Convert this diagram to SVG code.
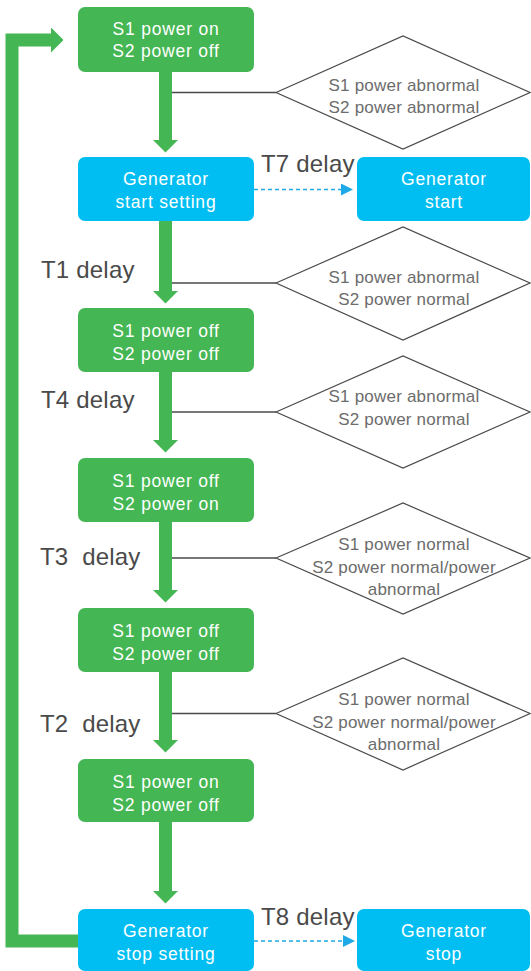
<svg xmlns="http://www.w3.org/2000/svg" width="531" height="971" viewBox="0 0 531 971">
<style>
.g{fill:#44B653}
.b{fill:#00BEF2}
.bt{font-family:"Liberation Sans",Arial,sans-serif;font-size:17.5px;letter-spacing:0.8px;fill:#ffffff;text-anchor:middle}
.dt{font-family:"Liberation Sans",Arial,sans-serif;font-size:17px;letter-spacing:0.2px;fill:#6c6c6c;text-anchor:middle}
.lt{font-family:"Liberation Sans",Arial,sans-serif;font-size:24px;letter-spacing:0.2px;fill:#4a4a4a}
.dm{fill:#ffffff;stroke:#4a4a4a;stroke-width:1.2}
.gl{stroke:#44B653;stroke-width:13;fill:none}
.cl{stroke:#4a4a4a;stroke-width:1.3}
.dl{stroke:#1EAAE6;stroke-width:1.4;stroke-dasharray:4 3}
</style>
<defs>
<marker id="gh" markerUnits="userSpaceOnUse" markerWidth="13" markerHeight="26" refX="0" refY="12.5" orient="auto" viewBox="0 0 13 26"><path d="M0,0 L12.5,12.5 L0,25 z" fill="#44B653"/></marker>
<marker id="bh" markerUnits="userSpaceOnUse" markerWidth="12" markerHeight="12" refX="0" refY="6" orient="auto" viewBox="0 0 12 12"><path d="M0,0 L12,6 L0,12 z" fill="#1EAAE6"/></marker>
</defs>
<g id="connectors">
<path class="gl" d="M78,941 H12 V40 H51" marker-end="url(#gh)"/>
<line class="gl" x1="165.5" y1="71" x2="165.5" y2="140" marker-end="url(#gh)"/>
<line class="gl" x1="165.5" y1="220" x2="165.5" y2="291" marker-end="url(#gh)"/>
<line class="gl" x1="165.5" y1="371" x2="165.5" y2="440" marker-end="url(#gh)"/>
<line class="gl" x1="165.5" y1="521" x2="165.5" y2="590" marker-end="url(#gh)"/>
<line class="gl" x1="165.5" y1="671" x2="165.5" y2="740" marker-end="url(#gh)"/>
<line class="gl" x1="165.5" y1="821" x2="165.5" y2="891" marker-end="url(#gh)"/>
<line class="cl" x1="172" y1="92.5" x2="276" y2="92.5"/>
<line class="cl" x1="172" y1="283" x2="276" y2="283"/>
<line class="cl" x1="172" y1="412" x2="276" y2="412"/>
<line class="cl" x1="172" y1="558" x2="276" y2="558"/>
<line class="cl" x1="172" y1="713.5" x2="276" y2="713.5"/>
<line class="dl" x1="254" y1="189.5" x2="341" y2="189.5" marker-end="url(#bh)"/>
<line class="dl" x1="254" y1="941" x2="343" y2="941" marker-end="url(#bh)"/>
<text class="lt" x="261" y="171.5">T7 delay</text>
<text class="lt" x="261" y="925">T8 delay</text>
<text class="lt" x="41" y="277.5">T1 delay</text>
<text class="lt" x="41" y="408">T4 delay</text>
<text class="lt" x="40" y="565" xml:space="preserve">T3  delay</text>
<text class="lt" x="40" y="732" xml:space="preserve">T2  delay</text>
</g>
<g id="n1"><rect class="g" x="78" y="7" width="176" height="65" rx="7"/><text class="bt" x="166" y="34.5">S1 power on</text><text class="bt" x="166" y="57">S2 power off</text></g>
<g id="n2"><rect class="b" x="78" y="157" width="176" height="64" rx="7"/><text class="bt" x="166" y="185">Generator</text><text class="bt" x="166" y="208">start setting</text></g>
<g id="n3"><rect class="b" x="357" y="157" width="173" height="64" rx="7"/><text class="bt" x="444" y="185">Generator</text><text class="bt" x="444" y="208">start</text></g>
<g id="n4"><rect class="g" x="78" y="308" width="176" height="64" rx="7"/><text class="bt" x="166" y="337">S1 power off</text><text class="bt" x="166" y="359.5">S2 power off</text></g>
<g id="n5"><rect class="g" x="78" y="458" width="176" height="64" rx="7"/><text class="bt" x="166" y="487">S1 power off</text><text class="bt" x="166" y="509.5">S2 power on</text></g>
<g id="n6"><rect class="g" x="78" y="608" width="176" height="64" rx="7"/><text class="bt" x="166" y="637">S1 power off</text><text class="bt" x="166" y="659.5">S2 power off</text></g>
<g id="n7"><rect class="g" x="78" y="759" width="176" height="63" rx="7"/><text class="bt" x="166" y="788">S1 power on</text><text class="bt" x="166" y="810.5">S2 power off</text></g>
<g id="n8"><rect class="b" x="78" y="909" width="176" height="62" rx="7"/><text class="bt" x="166" y="937">Generator</text><text class="bt" x="166" y="959.5">stop setting</text></g>
<g id="n9"><rect class="b" x="357" y="909" width="173" height="62" rx="7"/><text class="bt" x="444" y="937">Generator</text><text class="bt" x="444" y="959.5">stop</text></g>
<g id="d1"><polygon class="dm" points="276,92.5 403,36 530,92.5 403,149"/><text class="dt" x="404" y="90.5">S1 power abnormal</text><text class="dt" x="404" y="113">S2 power abnormal</text></g>
<g id="d2"><polygon class="dm" points="276,283 403,227 530,283 403,340"/><text class="dt" x="404" y="282.5">S1 power abnormal</text><text class="dt" x="404" y="304.5">S2 power normal</text></g>
<g id="d3"><polygon class="dm" points="276,412 403,356 530,412 403,468"/><text class="dt" x="404" y="402">S1 power abnormal</text><text class="dt" x="404" y="425">S2 power normal</text></g>
<g id="d4"><polygon class="dm" points="276,558 403,503 530,558 403,614"/><text class="dt" x="404" y="550">S1 power normal</text><text class="dt" x="404" y="572.5">S2 power normal/power</text><text class="dt" x="404" y="594.5">abnormal</text></g>
<g id="d5"><polygon class="dm" points="276,713.5 403,658 530,713.5 403,770"/><text class="dt" x="404" y="705">S1 power normal</text><text class="dt" x="404" y="727.5">S2 power normal/power</text><text class="dt" x="404" y="749.5">abnormal</text></g>
</svg>
